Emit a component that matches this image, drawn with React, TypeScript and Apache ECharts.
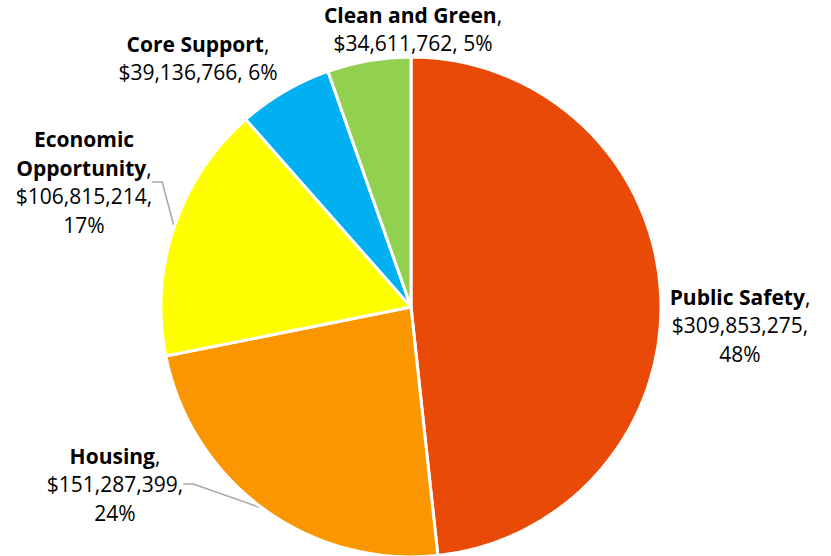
import React, { useEffect, useRef } from "react";
import * as echarts from "echarts";

const categories = ["Public Safety", "Housing", "Economic Opportunity", "Core Support", "Clean and Green"];
const values = [309853275, 151287399, 106815214, 39136766, 34611762];
const percents = ["48%", "24%", "17%", "6%", "5%"];
const colors = ["#EA4A08", "#FA9600", "#FFFF00", "#00B0F0", "#92D050"];
const nameLines = [["Public Safety"], ["Housing"], ["Economic", "Opportunity"], ["Core Support"], ["Clean and Green"]];
const valueLines = (i: number) => {
  const v = "$" + values[i].toLocaleString("en-US");
  if (i === 3 || i === 4) return [v + ", " + percents[i]];
  return [v + ",", percents[i]];
};
const labelPos = [
  [740, 325],
  [115, 484],
  [84, 182],
  [198, 58],
  [413, 29],
];
const showLine = [false, true, true, false, false];

export default function App() {
  const ref = useRef<HTMLDivElement>(null);
  useEffect(() => {
    if (!ref.current) return;
    const chart = echarts.init(ref.current, undefined, { renderer: "svg" });
    const data = categories.map((c, i) => ({
      name: c,
      value: values[i],
      itemStyle: { color: colors[i] },
      labelLine: { show: showLine[i] },
    }));
    chart.setOption({
      animation: false,
      series: [
        {
          type: "pie",
          center: [411, 307],
          radius: 250,
          startAngle: 90,
          clockwise: true,
          data,
          itemStyle: { borderColor: "#fff", borderWidth: 3 },
          label: {
            show: true,
            position: "outside",
            overflow: "none",
            fontFamily: "Open Sans",
            fontSize: 21,
            lineHeight: 28.5,
            color: "#000",
            align: "center",
            formatter: (p: any) => {
              const i = p.dataIndex;
              const nl = nameLines[i];
              const names = nl
                .map((s, k) => (k === nl.length - 1 ? "{b|" + s + "}{n|,}" : "{b|" + s + "}"))
                .join("\n");
              const vals = valueLines(i).map((s) => "{n|" + s + "}").join("\n");
              return names + "\n" + vals;
            },
            rich: {
              b: { fontFamily: "Open Sans", fontWeight: "bold", fontSize: 21, lineHeight: 28.5, color: "#000" },
              n: { fontFamily: "Open Sans", fontSize: 21, lineHeight: 28.5, color: "#000" },
            },
          },
          labelLine: {
            show: true,
            length: 10,
            length2: 10,
            lineStyle: { color: "#A6A6A6", width: 1.5 },
          },
          labelLayout: (params: any) => {
            const i = params.dataIndex;
            return {
              x: labelPos[i][0],
              y: labelPos[i][1],
              align: "center",
              verticalAlign: "middle",
            };
          },
        },
      ],
    });
    return () => chart.dispose();
  }, []);
  return <div ref={ref} style={{ position: "absolute", left: 0, top: 0, width: 831, height: 556 }} />;
}
